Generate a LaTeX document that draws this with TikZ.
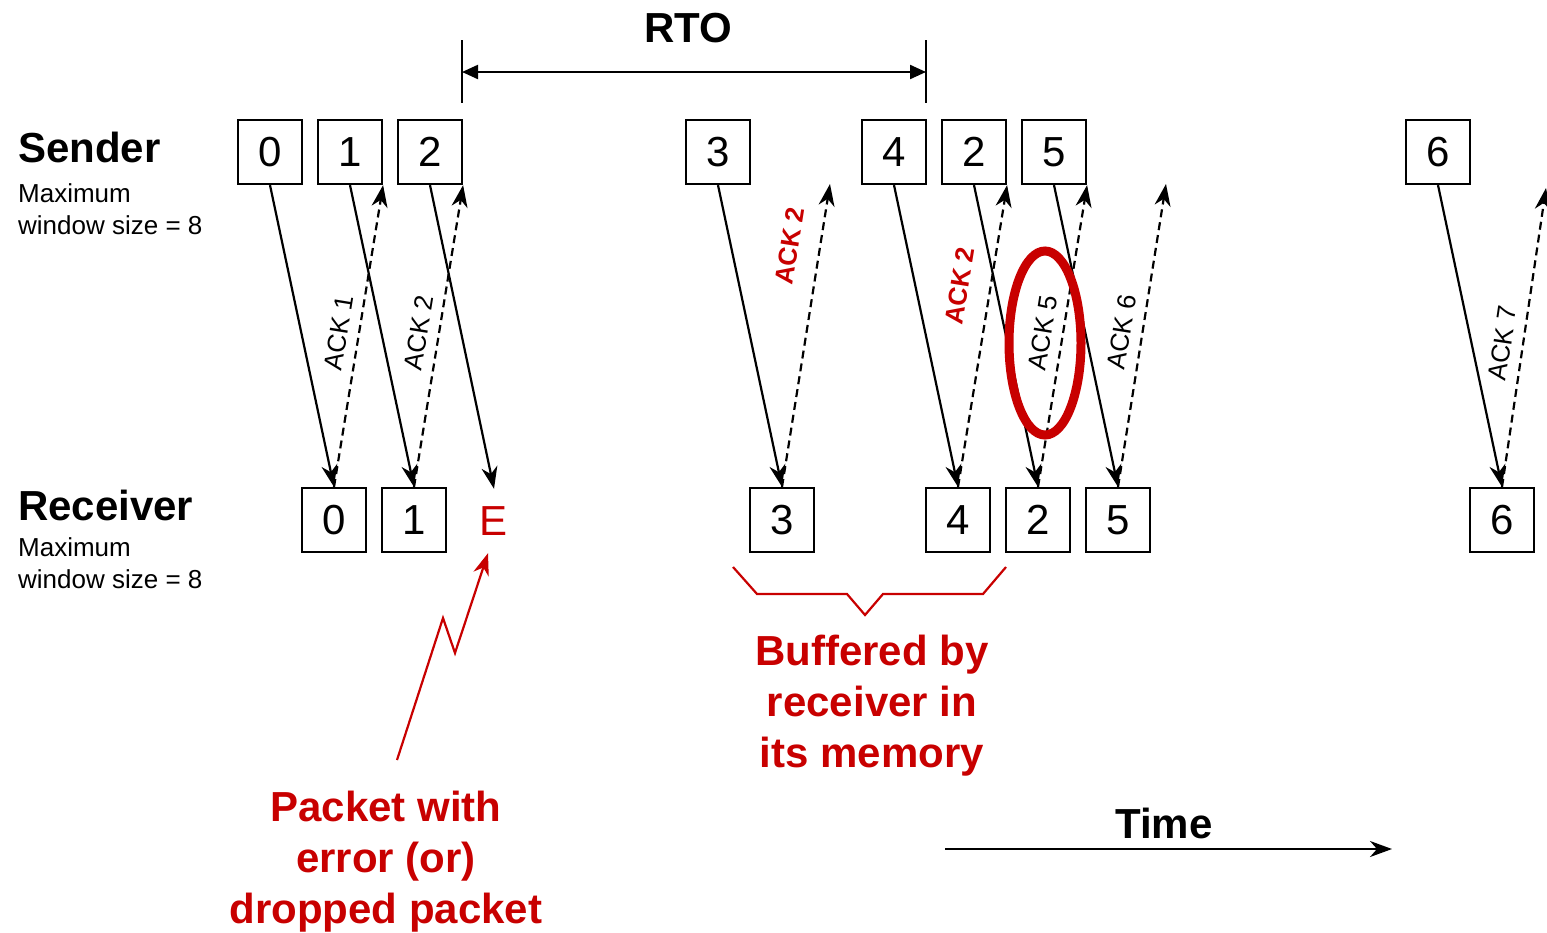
\documentclass[tikz,border=0pt]{standalone}
\usepackage{fontspec}
\setmainfont{Liberation Sans}
\usetikzlibrary{positioning,calc}
\usetikzlibrary{arrows.meta}
\definecolor{ErrRed}{RGB}{200,0,0}
\tikzset{
	pkt/.style={draw=black,line width=2.2pt,minimum size=64pt,inner sep=0pt,font=\fontsize{42}{50}\selectfont},
	errmark/.style={text=ErrRed,minimum size=64pt,inner sep=0pt,font=\fontsize{42}{50}\selectfont},
	data/.style={draw=black,line width=2.2pt,-{Stealth[length=22pt,width=16pt,inset=7pt]}},
	ack/.style={data,dash pattern=on 8pt off 5pt},
	acklbl/.style={sloped,above=10pt,inner sep=0pt,font=\fontsize{26}{30}\selectfont},
	ackred/.style={sloped,above=20pt,inner sep=0pt,text=ErrRed,font=\fontsize{26}{30}\selectfont\bfseries},
	role/.style={inner sep=0pt,font=\fontsize{42}{50}\selectfont\bfseries},
	note/.style={inner sep=0pt,align=left,font=\fontsize{26}{32}\selectfont},
	callout/.style={inner sep=0pt,align=center,text=ErrRed,font=\fontsize{42}{51}\selectfont\bfseries},
	redline/.style={draw=ErrRed,line width=2.2pt},
}

\begin{document}
\begin{tikzpicture}[x=1pt,y=-1pt]
	\useasboundingbox (0,0) rectangle (1547,932);
	\foreach \n/\x/\t in {s0/270/0,s1/350/1,s2/430/2,s3/718/3,s4/894/4,s2b/974/2,s5/1054/5,s6/1438/6}
	\node[pkt] (\n) at (\x,152) {\t};
	\foreach \n/\x/\t in {r0/334/0,r1/414/1,r3/782/3,r4/958/4,r2/1038/2,r5/1118/5,r6/1502/6}
	\node[pkt] (\n) at (\x,520) {\t};
	\node[errmark] (rE) at (494,521) {E};
	\coordinate (a3) at (830,184);
	\coordinate (a5) at (1166,184);
	\coordinate (a6) at (1546,188);
	\foreach \a/\b in {s0/r0,s1/r1,s2/rE,s3/r3,s4/r4,s2b/r2,s5/r5,s6/r6}
	\draw[data] (\a.south) -- (\b.north);
	\foreach \a/\b/\k/\p in {r0/s1.south east/1/.5,r1/s2.south east/2/.5,r2/s5.south east/5/.5,r5/a5/6/.5,r6/a6/7/.47}
	\draw[ack] (\a.north) -- node[acklbl,pos=\p] {ACK \k} (\b);
	\foreach \a/\b/\p in {r3/a3/.78,r4/s2b.south east/.65}
	\draw[ack] (\a.north) -- node[ackred,pos=\p] {ACK 2} (\b);
	\draw[ErrRed,line width=9pt] (1045,343) ellipse [x radius=36,y radius=92];
	\node[role,anchor=base west] (sndr) at (18,162) {Sender};
	\node[note,anchor=base west] (sndrwin) at (18,234) {Maximum\\window size = 8};
	\node[role,anchor=base west] (rcvr) at (18,520) {Receiver};
	\node[note,anchor=base west] (rcvrwin) at (18,588) {Maximum\\window size = 8};
	\coordinate (rtoL) at (462,72);
	\coordinate (rtoR) at (926,72);
	\draw[line width=2.2pt] (462,40) -- (462,103) (926,40) -- (926,103);
	\draw[line width=2.2pt,{Triangle[length=16pt,width=14pt]}-{Triangle[length=16pt,width=14pt]}] (rtoL) -- (rtoR);
	\node[role,anchor=base] (rto) at (688,42) {RTO};
	\coordinate (zz0) at (397,760);
	\coordinate (zz1) at (443,618);
	\coordinate (zz2) at (455,653);
	\draw[redline,-{Stealth[length=22pt,width=16pt,inset=7pt]}] (zz0) -- (zz1) -- (zz2) -- ([xshift=-6]rE.south);
	\node[callout,anchor=base] (lost) at (386,923) {Packet with\\error (or)\\dropped packet};
	\draw[redline] (733,567) -- (757,594) -- (847,594) -- (865,615) -- (883,594) -- (983,594) -- (1006,567);
	\node[callout,anchor=base] (buf) at (872,767) {Buffered by\\receiver in\\its memory};
	\coordinate (t0) at (945,849);
	\coordinate (t1) at (1392,849);
	\draw[data] (t0) -- (t1);
	\node[role,anchor=base] (time) at (1164,838) {Time};
\end{tikzpicture}
\end{document}
